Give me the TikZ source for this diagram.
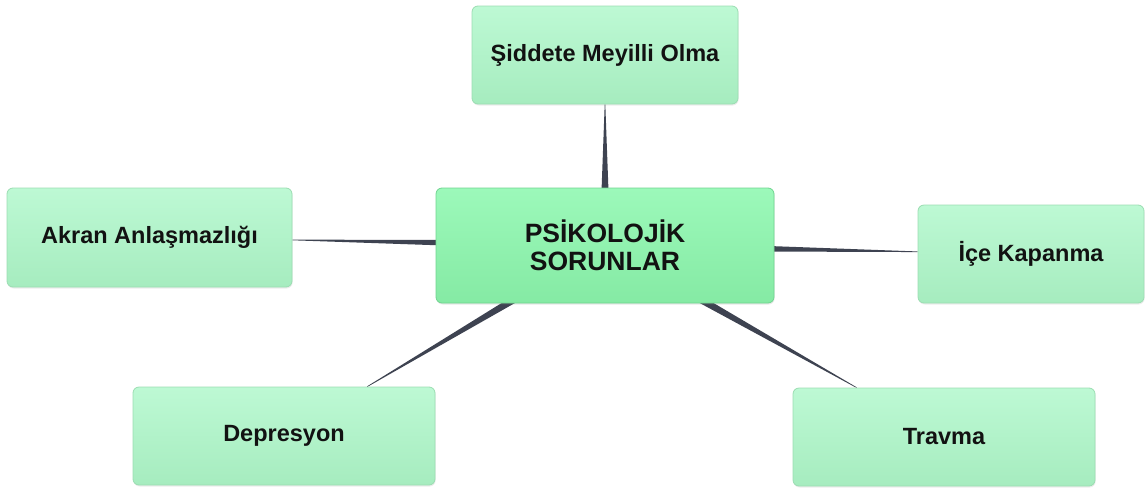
\documentclass[tikz,border=0pt]{standalone}
\usepackage{fontspec}
\setmainfont{Liberation Sans}
\usetikzlibrary{calc,backgrounds,shadows}
\definecolor{leaftop}{HTML}{BDF9D4}
\definecolor{leafbot}{HTML}{A6ECBF}
\definecolor{leafbd}{HTML}{9BDDB2}
\definecolor{maintop}{HTML}{9CF9BA}
\definecolor{mainbot}{HTML}{85EAA4}
\definecolor{mainbd}{HTML}{70D490}
\definecolor{conncol}{HTML}{3E4351}
\definecolor{txt}{HTML}{121212}
\tikzset{
  leaf/.style={draw=leafbd, line width=0.8pt, rounded corners=6pt,
    top color=leaftop, bottom color=leafbot, minimum height=98pt,
    font=\fontsize{23.5}{27}\selectfont\bfseries, text=txt, align=center,
    drop shadow={opacity=0.15, shadow xshift=0.6pt, shadow yshift=-1.5pt}},
  hub/.style={draw=mainbd, line width=0.8pt, rounded corners=6pt,
    top color=maintop, bottom color=mainbot, minimum width=338pt, minimum height=115pt,
    font=\fontsize{26.5}{28}\selectfont\bfseries, text=txt, align=center,
    drop shadow={opacity=0.18, shadow xshift=0.6pt, shadow yshift=-1.5pt}},
  conn/.style={fill=conncol}
}
\newcommand{\taper}[3]{%
  \path (#1.center) -- (#2) coordinate[pos=1] (#3);
  \fill[conn] ($(#1.center)!5.5pt!90:(#3)$) -- ($(#3)!0.3pt!-90:(#1.center)$) -- ($(#3)!0.3pt!90:(#1.center)$) -- ($(#1.center)!5.5pt!-90:(#3)$) -- cycle;}
\begin{document}
\begin{tikzpicture}[x=1pt,y=-1pt]
  \useasboundingbox (0,0) rectangle (1145,490);
  \node[hub] (hub) at (605,245.5) {PSİKOLOJİK\\SORUNLAR};
  \node[leaf, minimum width=266pt] (top) at (605,55) {Şiddete Meyilli Olma};
  \node[leaf, minimum width=285pt, minimum height=99pt] (akran) at (149.5,237.5) {Akran Anlaşmazlığı};
  \node[leaf, minimum width=226pt] (ice) at (1031,254) {İçe Kapanma};
  \node[leaf, minimum width=302pt] (dep) at (284,436) {Depresyon};
  \node[leaf, minimum width=302pt] (trav) at (944,437) {Travma};
  \begin{scope}[on background layer]
    \taper{hub}{top}{eTop}
    \taper{hub}{akran}{eAkran}
    \taper{hub}{ice}{eIce}
    \taper{hub}{dep}{eDep}
    \taper{hub}{trav}{eTrav}
  \end{scope}
\end{tikzpicture}
\end{document}
